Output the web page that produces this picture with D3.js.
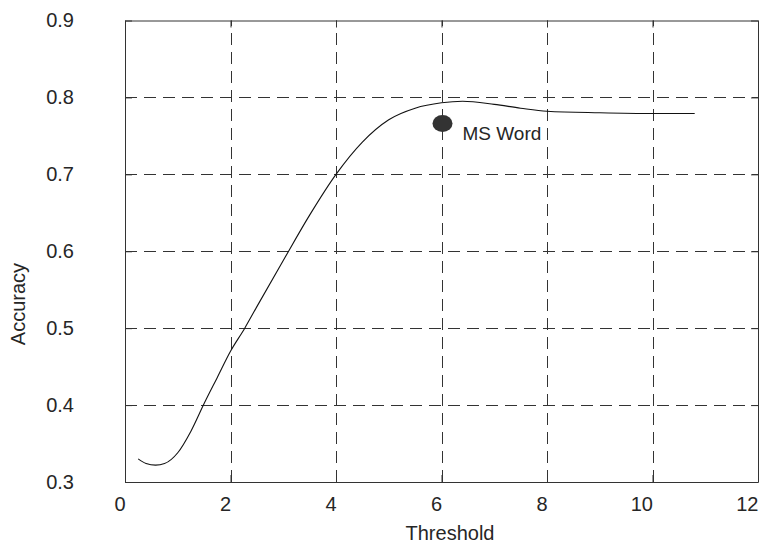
<!DOCTYPE html>
<html>
<head>
<meta charset="utf-8">
<script src="https://cdn.jsdelivr.net/npm/d3@7"></script>
<style>
  body { margin: 0; background: #fff; }
  text { font-family: "Liberation Sans", Arial, sans-serif; fill: #262626; }
</style>
</head>
<body>
<div id="chart"></div>
<script>
// threshold vs accuracy curve
var thresholds = [0.25, 0.4, 0.58, 0.75, 1.0, 1.25, 1.5, 1.75, 2.0, 2.27, 2.5, 3.0, 3.5, 4.0, 4.5, 5.0, 5.5, 6.0, 6.4, 7.0, 7.5, 8.0, 9.0, 10.0, 10.8];
var accuracy   = [0.330, 0.324, 0.322, 0.324, 0.338, 0.366, 0.402, 0.436, 0.470, 0.500, 0.528, 0.588, 0.647, 0.700, 0.742, 0.771, 0.786, 0.793, 0.795, 0.791, 0.786, 0.782, 0.780, 0.779, 0.779];

// single labelled point
var pointLabel = "MS Word";
var pointX = 6.0, pointY = 0.766;

var xTicks = [0, 2, 4, 6, 8, 10, 12];
var yTicks = [0.3, 0.4, 0.5, 0.6, 0.7, 0.8, 0.9];

var width = 762, height = 547;
var margin = {left: 125, right: 4, top: 20.5, bottom: 65};

var svg = d3.select("#chart").append("svg")
    .attr("width", width)
    .attr("height", height);

var x = d3.scaleLinear().domain([0, 12]).range([margin.left, width - margin.right]);
var y = d3.scaleLinear().domain([0.3, 0.9]).range([height - margin.bottom, margin.top]);

var x0 = x.range()[0], x1 = x.range()[1], y0 = y.range()[0], y1 = y.range()[1];

// dashed grid
var grid = svg.append("g").attr("class", "grid")
    .style("stroke", "#333").style("stroke-width", 1).style("stroke-dasharray", "12,7");
grid.selectAll("line.gx").data(xTicks.slice(1, -1)).enter().append("line")
    .attr("x1", d => Math.round(x(d)) + 0.5).attr("x2", d => Math.round(x(d)) + 0.5)
    .attr("y1", y0).attr("y2", y1);
grid.selectAll("line.gy").data(yTicks.slice(1, -1)).enter().append("line")
    .attr("y1", d => Math.round(y(d)) + 0.5).attr("y2", d => Math.round(y(d)) + 0.5)
    .attr("x1", x0).attr("x2", x1);

// axes with inward ticks on all four sides
var xb = svg.append("g").attr("transform", "translate(0," + y0 + ")")
  .call(d3.axisBottom(x).tickValues(xTicks).tickSizeInner(-7).tickSizeOuter(0).tickPadding(15).tickFormat(d3.format("d")));
// x labels sit with their right edge on the tick
xb.attr("text-anchor", "end");
svg.append("g").attr("transform", "translate(0," + y1 + ")")
  .call(d3.axisTop(x).tickValues(xTicks).tickSizeInner(-7).tickSizeOuter(0).tickFormat(""));
svg.append("g").attr("transform", "translate(" + x0 + ",0)")
  .call(d3.axisLeft(y).tickValues(yTicks).tickSizeInner(-7).tickSizeOuter(0).tickPadding(51).tickFormat(d3.format(".1f")));
svg.append("g").attr("transform", "translate(" + x1 + ",0)")
  .call(d3.axisRight(y).tickValues(yTicks).tickSizeInner(-7).tickSizeOuter(0).tickFormat(""));

svg.selectAll(".domain, .tick line").style("stroke", "#333").style("stroke-width", 1);
svg.selectAll(".tick text").style("font-size", "20px").style("fill", "#262626")
   .style("font-family", "'Liberation Sans', Arial, sans-serif");

// curve
var pts = thresholds.map((t, i) => [t, accuracy[i]]);
var line = d3.line().x(d => x(d[0])).y(d => y(d[1])).curve(d3.curveMonotoneX);
svg.append("path").datum(pts)
  .attr("d", line)
  .style("fill", "none").style("stroke", "#111").style("stroke-width", 1.1);

// point
svg.append("ellipse")
  .attr("cx", x(pointX) + 1).attr("cy", y(pointY))
  .attr("rx", 10).attr("ry", 8.5)
  .style("fill", "#333");
svg.append("text")
  .attr("x", x(pointX) + 21).attr("y", y(pointY) + 16)
  .style("font-size", "19px")
  .text(pointLabel);

// axis titles
svg.append("text")
  .attr("x", 450).attr("y", 540)
  .attr("text-anchor", "middle")
  .style("font-size", "20px")
  .text("Threshold");
svg.append("text")
  .attr("transform", "translate(25,304) rotate(-90)")
  .attr("text-anchor", "middle")
  .style("font-size", "20px")
  .text("Accuracy");
</script>
</body>
</html>
